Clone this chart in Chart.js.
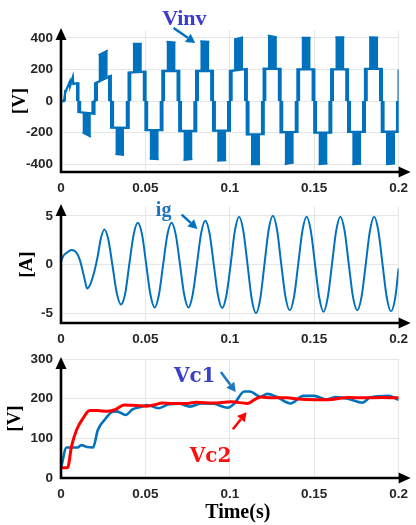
<!DOCTYPE html>
<html>
<head>
<meta charset="utf-8">
<script src="https://cdn.jsdelivr.net/npm/chart.js@4.4.1/dist/chart.umd.min.js"></script>
<style>
html, body { margin: 0; padding: 0; background: #fff; }
#wrap { position: relative; width: 416px; height: 525px; overflow: hidden; }
#wrap canvas { position: absolute; left: 0; }
</style>
</head>
<body>
<div id="wrap">
  <canvas id="cVinv" width="416" height="200" style="top:0px"></canvas>
  <canvas id="cIg" width="416" height="160" style="top:190px"></canvas>
  <canvas id="cVc" width="416" height="185" style="top:340px"></canvas>
</div>
<script>
// ---- axis ticks
const timeTicks = [0, 0.05, 0.1, 0.15, 0.2];
const vinvTicks = [-400, -200, 0, 200, 400];
const igTicks = [-5, 0, 5];
const vcTicks = [0, 100, 200, 300];

// ---- Vinv : first (charging) half cycle, [t, V]
const vinvStart = [[0, 0], [0.0018, 0], [0.0025, 53], [0.0052, 122], [0.0054, 95], [0.0070, 152], [0.0073, 108], [0.0090, 112]];
const vinvTail = [[0.2, 0], [0.2, 200]];

// ---- Vinv : one entry per half cycle (bar at start, block at peak, bar at end)
const hcBarA0 = [0.0018, 0.0103, 0.0202, 0.0297, 0.0401, 0.0501, 0.0601, 0.0701, 0.0801, 0.0901, 0.1001, 0.1101, 0.1201, 0.1301, 0.1401, 0.1501, 0.1601, 0.1701, 0.1801, 0.1901];
const hcBarA1 = [0.0030, 0.0121, 0.0220, 0.0316, 0.0418, 0.0518, 0.0618, 0.0718, 0.0818, 0.0918, 0.1018, 0.1118, 0.1218, 0.1318, 0.1418, 0.1518, 0.1618, 0.1718, 0.1818, 0.1918];
const hcBlk0 = [null, 0.0127, 0.0222, 0.0322, 0.0425, 0.0525, 0.0625, 0.0725, 0.0825, 0.0925, 0.1025, 0.1125, 0.1225, 0.1325, 0.1425, 0.1525, 0.1625, 0.1725, 0.1825, 0.1925];
const hcBlk1 = [null, 0.0177, 0.0277, 0.0374, 0.0479, 0.0579, 0.0679, 0.0779, 0.0879, 0.0979, 0.1079, 0.1179, 0.1279, 0.1379, 0.1479, 0.1579, 0.1679, 0.1779, 0.1879, 0.1979];
const hcBarC0 = [0.0088, 0.0179, 0.0278, 0.0382, 0.0483, 0.0583, 0.0683, 0.0783, 0.0883, 0.0983, 0.1083, 0.1183, 0.1283, 0.1383, 0.1483, 0.1583, 0.1683, 0.1783, 0.1883, 0.1983];
const hcBarC1 = [0.0103, 0.0198, 0.0295, 0.0400, 0.0500, 0.0600, 0.0700, 0.0800, 0.0900, 0.1000, 0.1100, 0.1200, 0.1300, 0.1400, 0.1500, 0.1600, 0.1700, 0.1800, 0.1900, 0.2000];
const hcInnerA = [65, -70, 112, -168, 180, -185, 190, -190, 190, -188, 190, -212, 205, -198, 200, -200, 200, -196, 203, -195];
const hcInnerB = [112, -80, 158, -170, 186, -185, 190, -190, 190, -188, 203, -210, 203, -196, 200, -200, 200, -196, 203, -195];
const hcPeakA = [null, -200, 292, -338, 364, -368, 377, -375, 381, -380, 392, -402, 417, -402, 402, -402, 406, -402, 406, -402];
const hcPeakB = [null, -228, 322, -344, 364, -370, 372, -370, 377, -377, 406, -402, 406, -392, 402, -398, 406, -400, 404, -398];

// ---- ig [t, A]
const igPoints = [
  [0, 0.3], [0.0015, 0.9], [0.0033, 1.2], [0.0063, 1.5], [0.0088, 1.3], [0.0111, 0.5],
  [0.014, -1.5], [0.0154, -2.45], [0.0174, -2.0], [0.0199, -0.6], [0.0218, 0.9], [0.0235, 2.6],
  [0.0257, 3.6], [0.028, 2.6], [0.0305, -0.1], [0.033, -2.9], [0.0355, -4.1], [0.038, -3.0],
  [0.0405, 0.1], [0.043, 3.05], [0.0455, 4.3], [0.048, 3.1], [0.0505, 0], [0.053, -3.1],
  [0.0555, -4.4], [0.058, -3.1], [0.0605, 0], [0.063, 3.05], [0.0655, 4.3], [0.068, 3.05],
  [0.0705, 0], [0.073, -3.1], [0.0755, -4.4], [0.078, -3.1], [0.0805, 0], [0.083, 3.2],
  [0.0855, 4.5], [0.088, 3.2], [0.0905, 0], [0.093, -3.15], [0.0955, -4.45], [0.098, -3.15],
  [0.1005, 0], [0.103, 3.45], [0.1055, 4.9], [0.108, 3.45], [0.1105, 0], [0.113, -3.55],
  [0.1155, -5.0], [0.118, -3.55], [0.1205, 0], [0.123, 3.55], [0.1255, 5.0], [0.128, 3.55],
  [0.1305, 0], [0.133, -3.35], [0.1355, -4.7], [0.138, -3.35], [0.1405, 0], [0.143, 3.45],
  [0.1455, 4.9], [0.148, 3.45], [0.1505, 0], [0.153, -3.4], [0.1555, -4.85], [0.158, -3.4],
  [0.1605, 0], [0.163, 3.45], [0.1655, 4.9], [0.168, 3.45], [0.1705, 0], [0.173, -3.35],
  [0.1755, -4.7], [0.178, -3.35], [0.1805, 0], [0.183, 3.45], [0.1855, 4.9], [0.188, 3.45],
  [0.1905, 0], [0.193, -3.4], [0.1955, -4.8], [0.198, -3.4], [0.2, -0.4]
];

// ---- capacitor voltages [t, V]
const vc1Points = [
  [0, 25], [0.0033, 77], [0.0098, 77], [0.0121, 83], [0.0155, 78], [0.019, 77], [0.0218, 121],
  [0.0257, 146], [0.0306, 167], [0.033, 168], [0.0384, 159], [0.0423, 173], [0.0481, 180],
  [0.0509, 184], [0.0579, 176], [0.064, 186], [0.07, 187], [0.0764, 180], [0.0833, 188],
  [0.0905, 187], [0.0988, 177], [0.1027, 188], [0.1086, 218], [0.112, 218], [0.118, 205],
  [0.1222, 212], [0.128, 204], [0.1359, 188], [0.1436, 207], [0.15, 207], [0.1573, 198],
  [0.163, 204], [0.17, 200], [0.1787, 190], [0.183, 203], [0.1943, 207], [0.2, 197]
];
const vc2Points = [
  [0, 26], [0.0039, 26], [0.0062, 79], [0.0092, 121], [0.013, 150], [0.017, 170], [0.0215, 170],
  [0.0277, 168], [0.032, 172], [0.0374, 184], [0.0452, 183], [0.05, 181], [0.055, 184],
  [0.06, 189], [0.066, 188], [0.075, 188], [0.08, 191], [0.09, 189], [0.1008, 192],
  [0.1105, 188], [0.1144, 197], [0.1183, 204], [0.125, 202], [0.134, 202], [0.14, 199],
  [0.15, 197], [0.16, 198], [0.17, 203], [0.18, 202], [0.19, 203], [0.2, 202]
];

const blue = '#0072bd';
const red = '#ff0000';
const tickFont = { family: "'Liberation Sans', Arial, sans-serif", size: 13.5, weight: 'bold' };
const axisTitleFont = { family: "'Liberation Serif', 'Times New Roman', serif", size: 19, weight: 'bold' };
const toXY = p => ({ x: p[0], y: p[1] });

// black axis lines with arrow heads
const axisArrows = {
  id: 'axisArrows',
  afterDatasetsDraw(chart) {
    const { ctx, chartArea: a } = chart;
    const tipY = a.top - 2, tipX = a.right + 12;
    ctx.save();
    ctx.strokeStyle = '#000';
    ctx.fillStyle = '#000';
    ctx.lineWidth = 2.6;
    ctx.beginPath();
    ctx.moveTo(a.left, a.bottom + 1);
    ctx.lineTo(a.left, tipY + 8);
    ctx.moveTo(a.left - 1, a.bottom);
    ctx.lineTo(tipX - 8, a.bottom);
    ctx.stroke();
    ctx.beginPath();
    ctx.moveTo(a.left, tipY);
    ctx.lineTo(a.left - 5.5, tipY + 12);
    ctx.lineTo(a.left + 5.5, tipY + 12);
    ctx.closePath();
    ctx.fill();
    ctx.beginPath();
    ctx.moveTo(tipX, a.bottom);
    ctx.lineTo(tipX - 12, a.bottom - 5.5);
    ctx.lineTo(tipX - 12, a.bottom + 5.5);
    ctx.closePath();
    ctx.fill();
    ctx.restore();
  }
};

// text labels and pointing arrows, placed in data units
function makeNotes(labels, arrows) {
  return {
    id: 'notes',
    afterDraw(chart) {
      const { ctx, scales: { x, y } } = chart;
      ctx.save();
      arrows.forEach(a => {
        const x1 = x.getPixelForValue(a.from[0]), y1 = y.getPixelForValue(a.from[1]);
        const x2 = x.getPixelForValue(a.to[0]), y2 = y.getPixelForValue(a.to[1]);
        const ang = Math.atan2(y2 - y1, x2 - x1);
        const hx = x2 - 9 * Math.cos(ang), hy = y2 - 9 * Math.sin(ang);
        ctx.strokeStyle = a.color;
        ctx.fillStyle = a.color;
        ctx.lineWidth = 2.5;
        ctx.beginPath();
        ctx.moveTo(x1, y1);
        ctx.lineTo(hx, hy);
        ctx.stroke();
        ctx.beginPath();
        ctx.moveTo(x2, y2);
        ctx.lineTo(hx + 5 * Math.sin(ang), hy - 5 * Math.cos(ang));
        ctx.lineTo(hx - 5 * Math.sin(ang), hy + 5 * Math.cos(ang));
        ctx.closePath();
        ctx.fill();
      });
      labels.forEach(l => {
        ctx.font = l.font;
        ctx.fillStyle = l.color;
        ctx.textAlign = 'center';
        ctx.textBaseline = 'alphabetic';
        ctx.fillText(l.text, x.getPixelForValue(l.at[0]), y.getPixelForValue(l.at[1]));
      });
      ctx.restore();
    }
  };
}

function xScale(height) {
  return {
    type: 'linear', min: 0, max: 0.2,
    afterBuildTicks: s => { s.ticks = timeTicks.map(v => ({ value: v })); },
    ticks: { font: tickFont, color: '#262626', padding: 8, maxRotation: 0, autoSkip: false,
      callback: v => String(+v.toFixed(2)) },
    grid: { color: '#e6e6e6', drawTicks: false },
    border: { display: false },
    afterFit: s => { s.height = height; }
  };
}

function yScale(min, max, ticks, title, titlePad) {
  return {
    type: 'linear', min, max,
    afterBuildTicks: s => { s.ticks = ticks.map(v => ({ value: v })); },
    ticks: { font: tickFont, color: '#262626', padding: 8, autoSkip: false },
    grid: { color: '#e6e6e6', drawTicks: false },
    border: { display: false },
    title: { display: true, text: title, font: axisTitleFont, color: '#000', padding: { top: titlePad, bottom: 0 } },
    afterFit: s => { s.width = 61; }
  };
}

function baseOptions(padTop, x, y) {
  return {
    responsive: false, animation: false, devicePixelRatio: 1, events: [],
    layout: { padding: { top: padTop, right: 13, left: 0, bottom: 0 } },
    elements: { point: { radius: 0 } },
    plugins: { legend: { display: false }, tooltip: { enabled: false } },
    scales: { x, y }
  };
}

// ---------- Vinv
const outline = vinvStart.map(toXY);
hcBarA0.forEach((t, k) => {
  if (k > 0) outline.push({ x: t, y: 0 }, { x: t, y: hcInnerA[k] });
  outline.push({ x: hcBarC1[k], y: hcInnerB[k] }, { x: hcBarC1[k], y: 0 });
});
vinvTail.forEach(p => outline.push(toXY(p)));

const edge = (pts, fill) => ({
  data: pts.map(toXY), fill, borderColor: blue, backgroundColor: blue, borderWidth: 1.5, tension: 0
});
const vinvSets = [{ data: outline, borderColor: blue, borderWidth: 2.3, fill: false, tension: 0 }];
hcBarA0.forEach((t, k) => {
  vinvSets.push(edge([[t, hcInnerA[k]], [hcBarA1[k], hcInnerA[k]]], { value: 0 }));
  vinvSets.push(edge([[hcBarC0[k], hcInnerB[k]], [hcBarC1[k], hcInnerB[k]]], { value: 0 }));
  if (hcBlk0[k] !== null) {
    vinvSets.push(edge([[hcBlk0[k], hcPeakA[k]], [hcBlk1[k], hcPeakB[k]]], '+1'));
    vinvSets.push({ data: [{ x: hcBlk0[k], y: hcInnerA[k] }, { x: hcBlk1[k], y: hcInnerB[k] }],
      borderWidth: 0, borderColor: blue, fill: false });
  }
});

new Chart(document.getElementById('cVinv'), {
  type: 'line',
  data: { datasets: vinvSets },
  options: baseOptions(30, xScale(28), yScale(-450, 450, vinvTicks, '[V]', 9)),
  plugins: [axisArrows, makeNotes(
    [{ text: 'Vinv', at: [0.0731, 482], font: "bold 22px 'Liberation Serif'", color: '#3c3cd2' }],
    [{ from: [0.0667, 463], to: [0.0795, 368], color: '#0070c0' }]
  )]
});

// ---------- ig
new Chart(document.getElementById('cIg'), {
  type: 'line',
  data: { datasets: [{ data: igPoints.map(toXY), borderColor: blue, borderWidth: 2, fill: false,
    cubicInterpolationMode: 'monotone' }] },
  options: baseOptions(14, xScale(27), yScale(-6, 6, igTicks, '[A]', 16)),
  plugins: [axisArrows, makeNotes(
    [{ text: 'ig', at: [0.0608, 5.0], font: "bold 20px 'Liberation Serif'", color: '#1f74bd' }],
    [{ from: [0.0715, 5.13], to: [0.0808, 3.66], color: '#0070c0' }]
  )]
});

// ---------- Vc1 / Vc2
new Chart(document.getElementById('cVc'), {
  type: 'line',
  data: { datasets: [
    { label: 'Vc2', data: vc2Points.map(toXY), borderColor: red, borderWidth: 3, fill: false,
      cubicInterpolationMode: 'monotone' },
    { label: 'Vc1', data: vc1Points.map(toXY), borderColor: blue, borderWidth: 2.6, fill: false,
      cubicInterpolationMode: 'monotone' }
  ] },
  options: baseOptions(19, xScale(47), yScale(0, 300, vcTicks, '[V]', 4)),
  plugins: [axisArrows, makeNotes(
    [
      { text: 'Vc1', at: [0.0792, 242], font: "bold 20px 'DejaVu Serif'", color: '#3b40c8' },
      { text: 'Vc2', at: [0.0886, 40], font: "bold 20px 'DejaVu Serif'", color: '#ff1010' },
      { text: 'Time(s)', at: [0.1047, -101], font: "bold 20px 'Liberation Serif'", color: '#000' }
    ],
    [
      { from: [0.0947, 267], to: [0.1035, 217], color: '#1f77c4' },
      { from: [0.1018, 123], to: [0.1099, 166], color: '#ff0000' }
    ]
  )]
});
</script>
</body>
</html>
